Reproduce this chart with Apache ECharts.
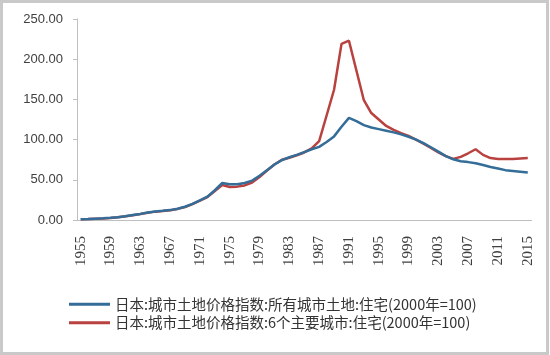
<!DOCTYPE html>
<html>
<head>
<meta charset="utf-8">
<script src="https://cdn.jsdelivr.net/npm/echarts@6/dist/echarts.min.js"></script>
<style>
  html, body { margin: 0; padding: 0; background: #fff; }
  #chart { width: 550px; height: 355px; }
</style>
</head>
<body>
<div id="chart"></div>
<script>
// 年份 1955-2015
const years = [];
for (let y = 1955; y <= 2015; y++) years.push(String(y));

const yTicks = [0, 50, 100, 150, 200, 250];

const seriesNames = [
  '日本:城市土地价格指数:所有城市土地:住宅(2000年=100)',
  '日本:城市土地价格指数:6个主要城市:住宅(2000年=100)'
];

// 所有城市土地
const allCities = [
  1.0, 1.3, 1.7, 2.1, 2.7, 3.5, 4.8, 6.2, 7.6, 9.2,
  10.6, 11.4, 12.3, 14.0, 16.5, 20.0, 24.5, 29.0, 37.0, 46.0,
  44.5, 44.5, 46.0, 49.0, 55.0, 62.0, 69.0, 74.5, 78.0, 81.0,
  84.5, 88.0, 91.0, 97.0, 104.0, 116.0, 127.0, 123.0, 118.0, 115.0,
  113.0, 111.0, 109.0, 106.5, 103.5, 100.0, 95.5, 90.5, 85.0, 79.5,
  75.5, 73.0, 72.0, 70.5, 68.5, 66.0, 64.0, 62.0, 61.0, 60.0,
  59.0
];

// 6个主要城市
const sixCities = [
  0.8, 1.1, 1.5, 1.9, 2.5, 3.3, 4.6, 6.0, 7.4, 9.0,
  10.4, 11.2, 12.1, 13.8, 16.2, 19.8, 24.0, 28.5, 36.0, 43.5,
  41.0, 41.5, 43.0, 46.5, 53.5, 61.5, 69.0, 75.0, 77.5, 80.5,
  84.0, 89.0, 98.0, 130.0, 162.0, 219.0, 223.0, 186.0, 149.0, 133.0,
  125.0, 117.0, 112.0, 108.0, 104.5, 100.0, 95.0, 89.5, 84.0, 79.5,
  76.0, 78.5, 83.0, 88.0, 81.0, 77.0, 76.0, 76.0, 76.0, 76.5,
  77.0
];

const chart = echarts.init(document.getElementById('chart'));

const axisFont = 'Liberation Sans, Arial, sans-serif';
const cjkFont = 'Noto Sans CJK SC, sans-serif';

chart.setOption({
  animation: false,
  backgroundColor: '#fff',
  graphic: [{
    type: 'rect',
    shape: { x: 1.5, y: 1.5, width: 546, height: 352 },
    style: { fill: 'none', stroke: '#c9c9c9', lineWidth: 3 },
    silent: true
  }],
  grid: { left: 77, right: 18.5, top: 19, bottom: 135 },
  legend: {
    orient: 'vertical',
    left: 64,
    top: 292,
    itemGap: 4,
    itemWidth: 41,
    itemHeight: 3,
    icon: 'rect',
    textStyle: { fontFamily: cjkFont, fontSize: 14.5, color: '#333' },
    data: seriesNames
  },
  xAxis: {
    type: 'category',
    data: years,
    boundaryGap: true,
    axisLine: { lineStyle: { color: '#bfbfbf', width: 1 } },
    axisTick: { interval: 3, length: 4, lineStyle: { color: '#bfbfbf' } },
    axisLabel: {
      interval: 3,
      rotate: 90,
      margin: 16,
      fontFamily: 'Liberation Serif, serif',
      fontSize: 15,
      color: '#404040'
    }
  },
  yAxis: {
    type: 'value',
    min: yTicks[0],
    max: yTicks[yTicks.length - 1],
    interval: 50,
    axisLine: { show: true, lineStyle: { color: '#bfbfbf', width: 1 } },
    axisTick: { show: true, length: 4, lineStyle: { color: '#bfbfbf' } },
    splitLine: { show: false },
    axisLabel: {
      margin: 14,
      fontFamily: axisFont,
      fontSize: 13,
      color: '#404040',
      formatter: v => v.toFixed(2)
    }
  },
  series: [
    {
      name: seriesNames[0],
      type: 'line',
      data: allCities,
      showSymbol: false,
      lineStyle: { color: '#336d98', width: 2.5 },
      itemStyle: { color: '#336d98' },
      z: 3
    },
    {
      name: seriesNames[1],
      type: 'line',
      data: sixCities,
      showSymbol: false,
      lineStyle: { color: '#b9413f', width: 2.5 },
      itemStyle: { color: '#b9413f' },
      z: 2
    }
  ]
});
</script>
</body>
</html>
